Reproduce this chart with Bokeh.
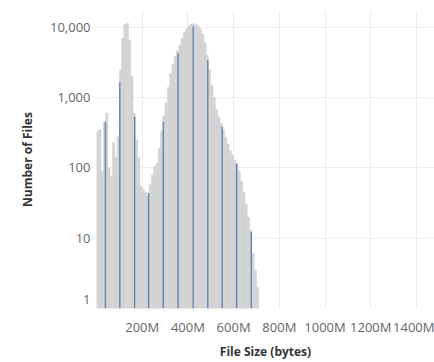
from bokeh.plotting import figure
from bokeh.models import FixedTicker, NumeralTickFormatter, Range1d, ColumnDataSource
from bokeh.embed import file_html
from bokeh.resources import INLINE

# Histogram of file sizes (millions of bytes), 10M bins starting at 0
bin_width_m = 10
file_counts = [
    330, 350, 90, 450, 600, 100, 75, 230, 140, 280,
    2500, 7000, 11000, 11500, 6500, 2000, 600, 250, 140, 55,
    50, 45, 40, 58, 80, 105, 115, 190, 330, 550,
    850, 1400, 2200, 3000, 3900, 4600, 5600, 7000, 8500, 9600,
    10700, 11200, 11300, 11000, 10500, 9500, 8000, 6000, 4000, 2500,
    1500, 1000, 680, 530, 430, 350, 270, 220, 175, 150,
    130, 117, 90, 65, 45, 30, 20, 13, 6, 3.5,
    2,
]

# Highlighted (blue) marks: size in M, number of files
blue_sizes_m = [39, 102, 167, 228, 292, 357, 423, 487, 550, 613, 677]
blue_counts = [450, 1660, 530, 44, 450, 4300, 10400, 3450, 390, 115, 12.4]

x_ticks = [0, 200, 400, 600, 800, 1000, 1200, 1400]
x_tick_labels = ["", "200M", "400M", "600M", "800M", "1000M", "1200M", "1400M"]
y_grid_ticks = [1, 10, 100, 1000, 10000]
# the "1" label is nudged up inside the pane, as in the original
y_label_ticks = [1.34, 10, 100, 1000, 10000]

left = [i * bin_width_m for i in range(len(file_counts))]
right = [l + bin_width_m for l in left]
hist = ColumnDataSource(dict(left=left, right=right, top=file_counts,
                             bottom=[1] * len(file_counts)))
blue = ColumnDataSource(dict(x=blue_sizes_m, y1=blue_counts, y0=[1] * len(blue_counts)))

p = figure(width=434, height=362, y_axis_type="log",
           x_range=Range1d(0, 1479), y_range=Range1d(1, 17400),
           output_backend="svg", toolbar_location=None,
           min_border_left=96, min_border_right=0, min_border_top=10, min_border_bottom=53)
p.outline_line_color = None
p.background_fill_color = "white"

p.quad(left="left", right="right", top="top", bottom="bottom", source=hist,
       fill_color="#d3d3d3", line_color="#d3d3d3", line_width=0.5)
p.segment(x0="x", y0="y0", x1="x", y1="y1", source=blue,
          line_color="#6585b3", line_width=1.4)

TICK_FONT = "Open Sans"
p.xaxis.ticker = FixedTicker(ticks=x_ticks)
p.xaxis.major_label_overrides = {t: l for t, l in zip(x_ticks, x_tick_labels)}
p.yaxis.ticker = FixedTicker(ticks=y_label_ticks)
p.yaxis.formatter = NumeralTickFormatter(format="0,0")
p.ygrid.ticker = FixedTicker(ticks=y_grid_ticks)

for ax in (p.xaxis[0], p.yaxis[0]):
    ax.axis_line_color = None
    ax.major_tick_line_color = None
    ax.minor_tick_line_color = None
    ax.major_tick_out = 0
    ax.major_tick_in = 0
    ax.minor_tick_out = 0
    ax.major_label_text_font = TICK_FONT
    ax.major_label_text_font_size = "13px"
    ax.major_label_text_color = "#666666"
    ax.axis_label_text_font = TICK_FONT
    ax.axis_label_text_font_size = "12px"
    ax.axis_label_text_font_style = "bold"
    ax.axis_label_text_color = "#333333"

p.xaxis.axis_label = "File Size (bytes)"
p.yaxis.axis_label = "Number of Files"
p.xaxis.major_label_standoff = 9
p.xaxis.axis_label_standoff = 4
p.yaxis.major_label_standoff = 6
p.yaxis.axis_label_standoff = 11

p.xgrid.grid_line_color = "#ececec"
p.ygrid.grid_line_color = "#ececec"
p.xgrid.grid_line_width = 1
p.ygrid.grid_line_width = 1

open("out.html", "w").write(file_html(p, INLINE))
